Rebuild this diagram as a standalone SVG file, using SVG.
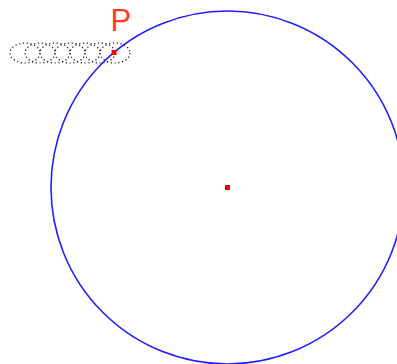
<svg xmlns="http://www.w3.org/2000/svg" width="397" height="364" viewBox="0 0 397 364">
<style>
.trail{fill:none;stroke:#111;stroke-width:1.2;stroke-dasharray:1.2 2.6}
.pt{fill:#ff0000}
</style>
<rect width="397" height="364" fill="#fff"/>
<g id="trail">
<ellipse class="trail" cx="25" cy="53" rx="15" ry="10"/>
<ellipse class="trail" cx="40" cy="53" rx="15" ry="10"/>
<ellipse class="trail" cx="55" cy="53" rx="15" ry="10"/>
<ellipse class="trail" cx="70" cy="53" rx="15" ry="10"/>
<ellipse class="trail" cx="85" cy="53" rx="15" ry="10"/>
<ellipse class="trail" cx="100" cy="53" rx="15" ry="10"/>
<ellipse class="trail" cx="115" cy="53" rx="15" ry="10"/>
</g>
<g id="circle">
<circle cx="227.5" cy="187.5" r="176.5" fill="none" stroke="#1e1eff" stroke-width="1.6"/>
</g>
<g id="center">
<rect class="pt" x="225" y="185" width="5" height="5"/>
</g>
<g id="P">
<rect class="pt" x="111.5" y="50" width="5" height="5"/>
<text x="110.5" y="31" font-family="Liberation Sans, Arial, sans-serif" font-size="31" fill="#ff3a1e">P</text>
</g>
</svg>
